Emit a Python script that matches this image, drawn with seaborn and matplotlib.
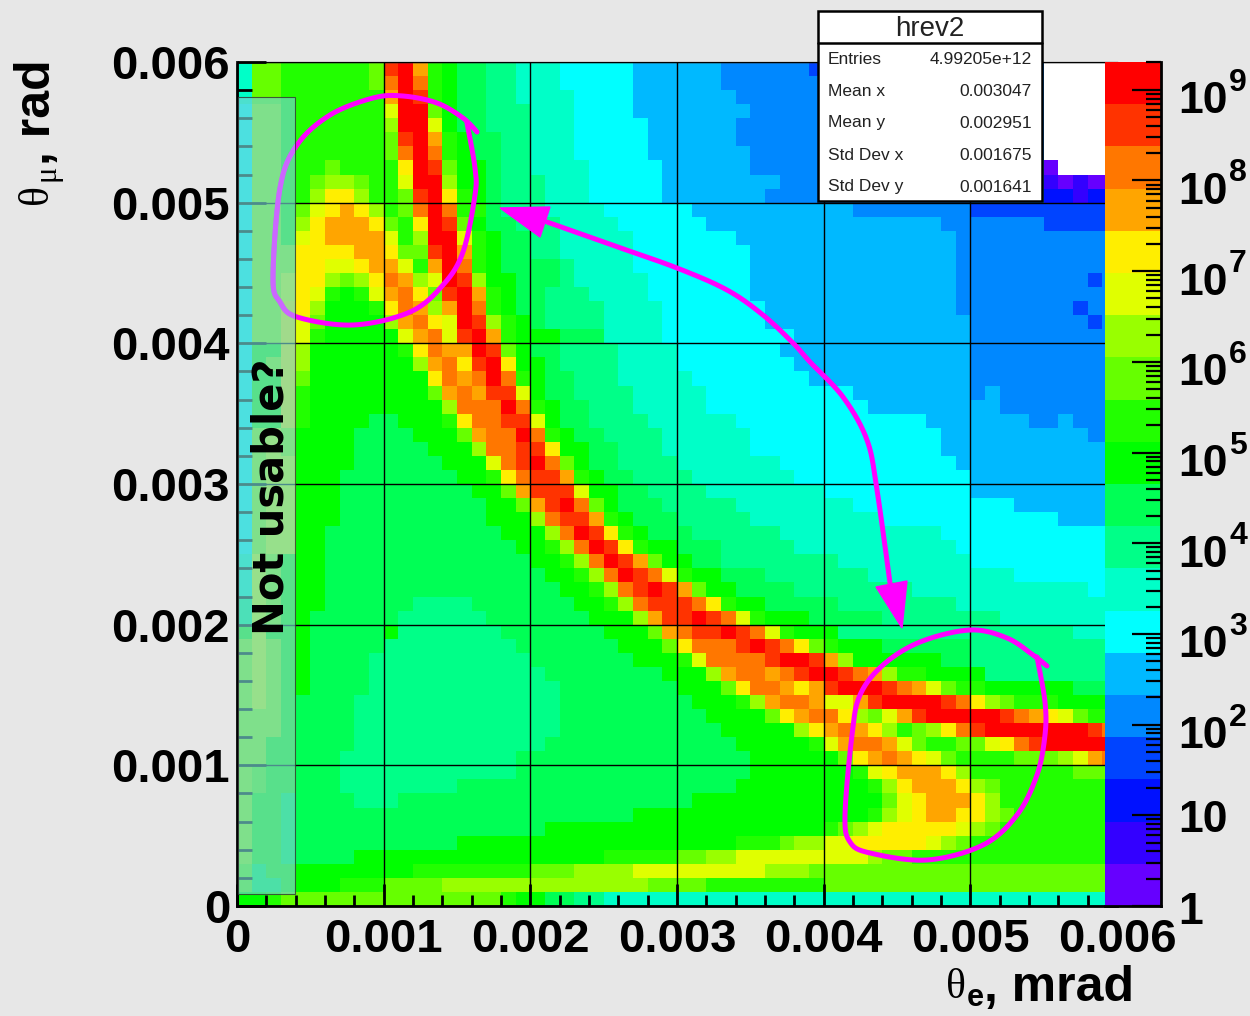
import numpy as np
import matplotlib
matplotlib.use("Agg")
import matplotlib.pyplot as plt
import seaborn as sns
from matplotlib.cm import ScalarMappable
from matplotlib.colors import ListedColormap, LogNorm
from matplotlib.patches import Polygon, Rectangle
from matplotlib.ticker import LogLocator, NullFormatter

# palette of the z scale, lowest level first
PALETTE = ["#6600ff", "#3300ff", "#0011ff", "#0044ff", "#0088ff", "#00b9ff", "#00ffff",
           "#00ffc8", "#00ff88", "#00ff55", "#00ff00", "#22ff00", "#66ff00", "#99ff00",
           "#e0ff00", "#ffee00", "#ffa500", "#ff7700", "#ff3300", "#ff0000"]
LEVEL_CODES = "0123456789abcdefghij"
Z_MAX_DECADES = 9.306

# colour level of each bin, top row first ('.' = empty bin)
# groups are columns 0-3, 4-19, 20-39, 40-59
LEVEL_ROWS = [
    "7ccb bbbbbcijgba99887 77666665555554444443 444444444444444.....",
    "7ccb bbbbbchjhba99887 77666665555554444444 444444444444444.....",
    "7ccb bbbbbbgjiba99887 77766665555555444444 444444444444444.....",
    "6ddb bbbbbbejjca99888 77766665555555544444 444444444444444.....",
    "6ddb bbbbbbdjjea99888 77766666555555444444 444444444444444.....",
    "6ddb bbbbbbcijgba9988 77766666555555444444 444444444444444.....",
    "6ddb bbbbbbchjhba9988 77766666555555544444 444444444444444.....",
    "6ddb bbcbbbbfjicaa988 77776666655555544444 4444444444444440....",
    "6ddb bcddcbbejjdaa988 87776666655555555444 44444444444444410100",
    "6ddb bdffdbbcijfba988 87776666655555554444 44444444444444422122",
    "6ddb cefgfdbchjhbb988 87777666666555555555 55444444443333333333",
    "6ddb dfgggfcbfjica998 88777766666655555555 55555555444444433333",
    "6ddb efggggebdjjeba99 88777776666666555555 55555555544444444444",
    "6ddd ffffggfccijgba99 88777776666666655555 55555555544444444444",
    "6ddd ffeefggebgjhba99 99877776666666655555 55555555544444444444",
    "6dde ffdcdfhgdejidaa9 99877777666666655555 55555555544444444434",
    "6dde febabeghfcijgba9 98887777666666655555 55555555544444444444",
    "6ddf fdaaabfhgdgjhba9 98888777766666665555 55555555544444444344",
    "6ddf ecaaaadghfejidba 98888777766666665555 55555555554444444434",
    "6ddf ebaaaaaegheijgba aa999777766666666655 55555555554444444444",
    "6bbf daaaaaabfhggjica 99888877776666666555 55555555554444444444",
    "6bdf daaaaaaadghfijfa a9888877776666666655 55555555554444444444",
    "6bbf caaaaaaaafhghjhb a9988877777666666665 55555555554444444444",
    "6bbf baaaaaaaacghgiie a9988887777766666666 66555555554544444444",
    "6bbf baaaaaaaaadhhhjh ba998887777766666666 66655555555544444444",
    "6bbf baaaa99aaabfhhii ea998888777777666666 66666665555555445444",
    "6ded aaaa9999aaacghhj hba99888877777766666 66666666555555555544",
    "6ded aaaa99999aaadhhi ifaa9988877777766666 66666666555555555555",
    "6dee aaaa999999aaaehi jhca9988887777777666 66666666655555555555",
    "6dee aaa99999999aabfh iigba998888777777766 66666666665555555555",
    "6dee aaa999999999aacg iiieaa99888877777777 66666666665555555555",
    "6dee aaa9999999999aac gijhca99988888777777 77666666666665555555",
    "6dee aaa9999999999aaa dhiigba9998888877777 77776666666666665555",
    "6dee aa999999999999aa adhjifba999888888777 77777777666666666666",
    "6dee aa9999999999999a abdhjifbaa9998888877 77777777766666666666",
    "7edb aa99999999999999 aabdhjigcaa998888888 87777777776666666666",
    "7edb aa99999999999999 9aabdhjihebaa9998888 88877777777776666666",
    "7edb aa99999999999999 99aabdhijigcaa999988 88888877777777777766",
    "8edb aa99999988889999 999aabdhiiihfbaa9999 98888888877777777777",
    "8edb a999999888888999 9999aaadgiijihebaaa9 99998888888877777777",
    "bebb a99999a888888899 99999aaacghiijihebaa a8888888888888888777",
    "dedb a999998888888889 999999aaacfhhhijihfc baaa9999998888888888",
    "dedb a999988888888888 9999999aaabehhhhijji gdaaaaaa998888888888",
    "dedb a999988888888888 899999999aaadghhghij jihgdbbaaaa888888888",
    "dedb a999988888888888 8899999999aaacfhhgfg ijjjihgecbbaaaaaa999",
    "dedb 9999888888888888 88999999999aaabdghhg eegijjjjihfdcbbbaaaa",
    "dddb 9999888888888888 889999999999aaaacfgh hfdcegijjjjjihgfecbb",
    "dddb 9999888888888888 8899999999999aaaaadf ghgfdbcdfhijjjjjjjih",
    "ddbb 9999888888888888 89999999999999aaaaab eghhgecbbccefhijjjjj",
    "ddbb 9998888888888889 999999999999999aaaaa acfghgfecbbbbcccdegh",
    "dcbb 9998888888888889 999999999999999aaaaa aabefgggfdbbbbbbbccc",
    "dcbb 9998888888899999 99999999999999aaaaaa aaabdfgggfdcbbbbbbbb",
    "dbb9 9999888999999999 99999999999aaaaaaaaa aaaacefgggfdbbbbbbbb",
    "dbb9 9999999999999999 9999999aaaaaaaaaaaaa aaabdefggffdcbbbbbbb",
    "dbb9 9999999999999999 9aaaaaaaaaaaaaaaaaaa bcdefffffedcbbbbbbbb",
    "dbb9 99999999999aaaaa aaaaaaaaaaaaaabbbcdd eefffffedcbbbbbbbbbb",
    "dbb9 9999aaaaaaaaaaaa aaaaabbbbbccddeeeeee eeedccbbbbbbbbbbbbbb",
    "c9bb aaaaaaaabbbbbbbb cccddddeeeeeeeeedddc cccccccccccccccccccc",
    "c99b aaabbbccccdddddd ddddddddccccbbbbbbbb cccccccccccccccccccc",
    "aabc ccccccccccccccba a9988777777777777777 77777777777777777777",
]

X_LABELS = ["0", "0.001", "0.002", "0.003", "0.004", "0.005", "0.006"]
Y_LABELS = ["0.006", "0.005", "0.004", "0.003", "0.002", "0.001", "0"]
Z_EXPONENTS = [0, 1, 2, 3, 4, 5, 6, 7, 8, 9]

STAT_NAMES = ["Entries", "Mean x", "Mean y", "Std Dev x", "Std Dev y"]
STAT_VALUES = ["4.99205e+12", "0.003047", "0.002951", "0.001675", "0.001641"]
STAT_Y = [60, 92, 123, 156, 187]

# hand drawn annotations, in picture pixels
LOOP_LEFT = [(467, 123), (475, 168), (475, 195), (463, 252), (443, 285), (410, 312), (353, 325),
             (297, 317), (280, 302), (273, 278), (280, 188), (297, 145), (330, 115), (373, 98),
             (403, 96), (437, 103), (463, 118), (477, 132)]
LOOP_RIGHT = [(1037, 657), (1045, 702), (1045, 735), (1037, 775), (1017, 815), (983, 845),
              (927, 860), (870, 853), (850, 842), (845, 815), (852, 735), (860, 695), (883, 665),
              (920, 642), (970, 630), (1007, 638), (1033, 655), (1047, 666)]
ARROW_PATH = [(547, 222), (612, 245), (677, 268), (727, 290), (763, 315), (793, 343), (810, 362),
              (843, 397), (867, 440), (877, 490), (890, 583)]
HEAD_TOP = [(500, 208), (550, 207), (540, 237)]
HEAD_BOTTOM = [(876, 587), (907, 581), (902, 628)]

sns.set_theme(style="white")
plt.rcParams["font.family"] = ["Liberation Sans", "DejaVu Sans"]

W, H = 1250, 1016
BG = "#e7e7e7"


def px_axes(fig, left, top, right, bottom):
    return fig.add_axes([left / W, 1 - bottom / H, (right - left) / W, (bottom - top) / H])


def smooth(points, n=24):
    # catmull-rom through the hand drawn points
    pts = np.array(points, dtype=float)
    pts = np.vstack([pts[0], pts, pts[-1]])
    out = []
    for i in range(1, len(pts) - 2):
        p0, p1, p2, p3 = pts[i - 1], pts[i], pts[i + 1], pts[i + 2]
        for t in np.linspace(0, 1, n, endpoint=False):
            out.append(0.5 * (2 * p1 + (p2 - p0) * t + (2 * p0 - 5 * p1 + 4 * p2 - p3) * t ** 2
                              + (3 * p1 - p0 - 3 * p2 + p3) * t ** 3))
    out.append(pts[-2])
    return np.array(out)


rows = [r.replace(" ", "") for r in LEVEL_ROWS]
for r in rows:
    assert len(r) == 60, r
levels = np.array([[np.nan if c == "." else LEVEL_CODES.index(c) for c in r] for r in rows])

z_max = 10 ** Z_MAX_DECADES
step = Z_MAX_DECADES / len(PALETTE)
counts = 10 ** ((levels + 0.5) * step)

cmap = ListedColormap(PALETTE)
norm = LogNorm(vmin=1, vmax=z_max)

fig = plt.figure(figsize=(W / 100, H / 100), dpi=100, facecolor=BG)

# the histogram frame runs on under the palette, as in the original
ax = px_axes(fig, 237, 62, 1117, 906)
sns.heatmap(counts, mask=np.isnan(counts), cmap=cmap, norm=norm, cbar=False, ax=ax,
            xticklabels=False, yticklabels=False)
ax.set_facecolor("white")
ax.set_xticks(np.arange(0, 61, 10), labels=X_LABELS)
ax.set_yticks(np.arange(0, 61, 10), labels=Y_LABELS)
ax.set_xticks(np.arange(0, 61, 2), minor=True)
ax.set_yticks(np.arange(0, 61, 2), minor=True)
ax.tick_params(axis="x", which="major", direction="in", length=16, width=2, color="black",
               labelsize=34, pad=9, bottom=True, left=False, labelrotation=0)
ax.tick_params(axis="y", which="major", direction="in", length=21, width=2, color="black",
               labelsize=34, pad=5, left=True, labelrotation=0)
ax.tick_params(axis="x", which="minor", direction="in", length=8, width=2, color="black", bottom=True)
ax.tick_params(axis="y", which="minor", direction="in", length=11, width=2, color="black", left=True)
for label in ax.get_xticklabels() + ax.get_yticklabels():
    label.set_fontweight("bold")
    label.set_color("black")
ax.grid(True, which="major", color="black", linewidth=1.0)
ax.set_axisbelow(False)
for name in ["left", "bottom"]:
    ax.spines[name].set_visible(True)
    ax.spines[name].set_color("black")
    ax.spines[name].set_linewidth(2)
ax.spines["top"].set_visible(True)
ax.spines["top"].set_color("#666666")
ax.spines["top"].set_linewidth(1)

# colour palette
cax = px_axes(fig, 1105, 62, 1161, 906)
cbar = fig.colorbar(ScalarMappable(norm=norm, cmap=cmap), cax=cax)
cbar.outline.set_visible(False)
cax.set_axisbelow(False)
cax.yaxis.set_ticks_position("right")
cax.set_yticks([10.0 ** k for k in Z_EXPONENTS])
cax.yaxis.set_minor_locator(LogLocator(base=10, subs=range(2, 10), numticks=12))
cax.yaxis.set_minor_formatter(NullFormatter())
cax.tick_params(which="major", direction="in", length=21, width=1.6, color="black",
                labelright=False, right=True)
cax.tick_params(which="minor", direction="in", length=11, width=1.6, color="black", right=True)
for name in ["right", "bottom"]:
    cax.spines[name].set_visible(True)
    cax.spines[name].set_color("black")
    cax.spines[name].set_linewidth(2)

# everything placed by hand goes on a full picture layer in pixels
over = fig.add_axes([0, 0, 1, 1], zorder=5)
over.set_xlim(0, W)
over.set_ylim(H, 0)
over.axis("off")

for path in [LOOP_LEFT, LOOP_RIGHT, ARROW_PATH]:
    xy = smooth(path)
    over.plot(xy[:, 0], xy[:, 1], color="#ff00ff", linewidth=3.6, solid_capstyle="round", zorder=2)
over.add_patch(Polygon(HEAD_TOP, closed=True, color="#ff00ff", zorder=2))
over.add_patch(Polygon(HEAD_BOTTOM, closed=True, color="#ff00ff", zorder=2))

# translucent band over the unusable region
band = Rectangle((238, 97), 57, 797, facecolor=(115 / 255, 209 / 255, 209 / 255, 0.67),
                 edgecolor=(0.2, 0.2, 0.2, 0.8), linewidth=0.8, zorder=3)
over.add_patch(band)
# the loop still shows through the band as a lighter violet
xy = smooth(LOOP_LEFT)
seen, = over.plot(xy[:, 0], xy[:, 1], color="#cc66ff", linewidth=3.6, solid_capstyle="round", zorder=3.5)
seen.set_clip_path(band)
over.text(271, 497, "Not usable?", rotation=90, ha="center", va="center", fontsize=30,
          fontweight="bold", family="DejaVu Sans", color="black", zorder=4)

# stats box
over.add_patch(Rectangle((818, 11), 224, 190, facecolor="white", edgecolor="black", linewidth=1.8, zorder=6))
over.plot([818, 1042], [43, 43], color="black", linewidth=1.8, zorder=7)
over.text(930, 29, "hrev2", ha="center", va="center", fontsize=20, color="#222222", zorder=7)
for name, value, y in zip(STAT_NAMES, STAT_VALUES, STAT_Y):
    over.text(828, y, name, ha="left", va="center", fontsize=12.5, color="#222222", zorder=7)
    over.text(1032, y, value, ha="right", va="center", fontsize=12.5, color="#222222", zorder=7)

# palette labels
for k in Z_EXPONENTS:
    tick_y = 906 - k * 90.7
    if k == 0:
        over.text(1178, tick_y + 6, "1", ha="left", va="center", fontsize=32, fontweight="bold", color="black")
    elif k == 1:
        over.text(1178, tick_y + 5, "10", ha="left", va="center", fontsize=32, fontweight="bold", color="black")
    else:
        over.text(1178, tick_y + 12, "10", ha="left", va="center", fontsize=32, fontweight="bold", color="black")
        over.text(1229, tick_y - 7, str(k), ha="left", va="center", fontsize=23, fontweight="bold", color="black")

# axis titles
over.text(956, 988, "θ", ha="center", va="center", fontsize=30, family="Liberation Serif", color="black")
over.text(967, 998, "e", ha="left", va="center", fontsize=22, fontweight="bold", color="black")
over.text(984, 988, ", mrad", ha="left", va="center", fontsize=36, fontweight="bold", color="black")
over.text(37, 194, "θ", rotation=90, ha="center", va="center", fontsize=30, family="Liberation Serif", color="black")
over.text(47, 173, "μ", rotation=90, ha="center", va="center", fontsize=22, family="Liberation Serif", color="black")
over.text(37, 165, ", rad", rotation=90, ha="center", va="bottom", fontsize=36, fontweight="bold", color="black")

fig.savefig("out.png", dpi=100, facecolor=BG)
